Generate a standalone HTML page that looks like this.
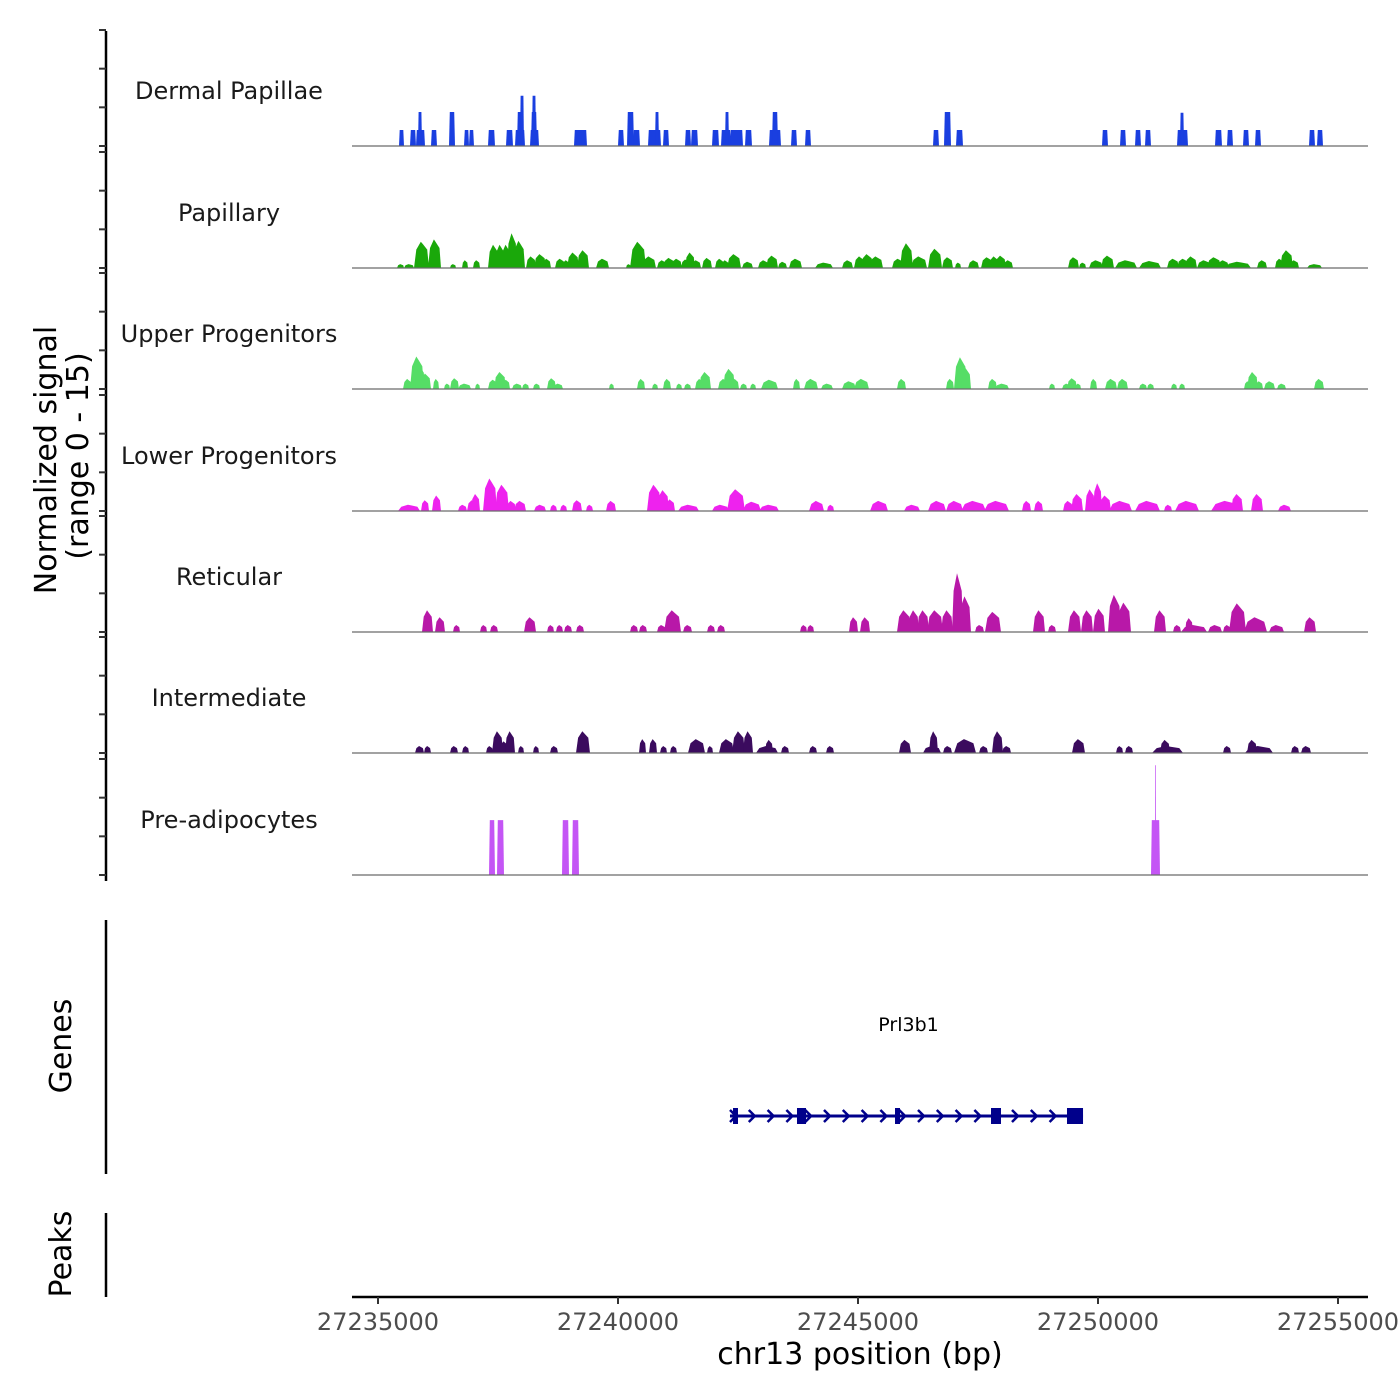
<!DOCTYPE html>
<html><head><meta charset="utf-8"><title>Coverage plot</title>
<style>
html,body{margin:0;padding:0;background:#fff;}
svg{display:block;font-family:"DejaVu Sans","Liberation Sans",sans-serif;}
</style></head>
<body>
<svg id="chart" width="1400" height="1400" viewBox="0 0 1400 1400" xmlns="http://www.w3.org/2000/svg">
<rect width="1400" height="1400" fill="#fff"/>
<g id="tracks"></g>
<g id="left-axis"></g>
<text transform="translate(56,460) rotate(-90)" text-anchor="middle" font-size="30" fill="#000">Normalized signal</text>
<text transform="translate(88,456) rotate(-90)" text-anchor="middle" font-size="30" fill="#000">(range 0 - 15)</text>
<line x1="106" y1="920" x2="106" y2="1174" stroke="#000" stroke-width="2.5"/>
<text transform="translate(71,1046) rotate(-90)" text-anchor="middle" font-size="30" fill="#000">Genes</text>
<line x1="106" y1="1213" x2="106" y2="1297" stroke="#000" stroke-width="2.5"/>
<text transform="translate(71,1254) rotate(-90)" text-anchor="middle" font-size="30" fill="#000">Peaks</text>
<g id="genes"></g>
<g id="xaxis"></g>
<text x="860" y="1364" text-anchor="middle" font-size="30" fill="#000">chr13 position (bp)</text>
</svg>
<script>
const xTicks = [27235000, 27240000, 27245000, 27250000, 27255000];
const xTickLabels = ["27235000", "27240000", "27245000", "27250000", "27255000"];
const trackNames = ["Dermal Papillae","Papillary","Upper Progenitors","Lower Progenitors","Reticular","Intermediate","Pre-adipocytes"];
const trackColors = ["#1a3fe0","#1aa80a","#55dd66","#ee22ee","#b818a8","#3b0b5e","#c455f5"];
const yTickValues = [0,5,10,15];

const dermalPeaks = [[27235458,27235521,2.07],[27235688,27235771,2.07],[27235813,27235958,2.07],[27235854,27235896,4.4],[27236125,27236208,2.07],[27236500,27236583,4.4],[27236813,27236875,2.07],[27236917,27236979,2.07],[27237313,27237417,2.07],[27237688,27237792,2.07],[27237875,27238042,2.07],[27237917,27237979,4.4],[27237979,27238021,6.5],[27238188,27238333,2.07],[27238208,27238292,4.4],[27238229,27238271,6.5],[27239104,27239333,2.07],[27240021,27240104,2.07],[27240208,27240313,4.4],[27240333,27240438,2.07],[27240646,27240875,2.07],[27240792,27240833,4.4],[27240958,27241042,2.07],[27241417,27241500,2.07],[27241542,27241646,2.07],[27241979,27242083,2.07],[27242167,27242333,2.07],[27242250,27242292,4.4],[27242354,27242583,2.07],[27242667,27242771,2.07],[27243167,27243375,2.07],[27243229,27243313,4.4],[27243625,27243708,2.07],[27243917,27244000,2.07],[27246583,27246667,2.07],[27246813,27246917,4.4],[27247063,27247167,2.07],[27250104,27250188,2.07],[27250479,27250563,2.07],[27250792,27250875,2.07],[27251000,27251083,2.07],[27251667,27251854,2.07],[27251729,27251771,4.3],[27252458,27252563,2.07],[27252708,27252792,2.07],[27253042,27253125,2.07],[27253292,27253375,2.07],[27254417,27254500,2.07],[27254583,27254667,2.07]];
const papillaryPeaks = [[27235417,27235521,0.5],[27235563,27235729,0.5],[27235771,27236042,3.4],[27236063,27236292,3.7],[27236521,27236604,0.5],[27236771,27236854,1],[27237000,27237104,1],[27237313,27237500,3],[27237458,27237625,3],[27237583,27237750,3],[27237708,27237875,4.5],[27237833,27238042,3.5],[27238104,27238271,1.5],[27238271,27238479,1.8],[27238438,27238583,1.2],[27238708,27238875,1.2],[27238854,27238979,1],[27238958,27239167,2],[27239167,27239375,2.3],[27239563,27239792,1.2],[27240188,27240250,0.5],[27240271,27240563,3.4],[27240521,27240771,1.5],[27240833,27241000,1],[27240958,27241167,1.3],[27241125,27241313,1.2],[27241333,27241479,1.1],[27241417,27241583,2],[27241542,27241708,1],[27241771,27241938,1.3],[27242042,27242188,1.2],[27242167,27242292,1],[27242292,27242542,1.8],[27242604,27242792,0.8],[27242938,27243125,1],[27243104,27243313,1.6],[27243354,27243500,0.8],[27243583,27243813,1.2],[27244125,27244458,0.7],[27244688,27244875,1],[27244938,27245125,1.5],[27245083,27245292,1.8],[27245250,27245500,1.5],[27245729,27245938,1.2],[27245896,27246125,3.2],[27246125,27246417,1.5],[27246479,27246729,2.5],[27246771,27246958,1.4],[27247042,27247125,0.7],[27247313,27247500,1],[27247583,27247792,1.4],[27247750,27247917,1.5],[27247875,27248063,1.6],[27248042,27248208,1],[27249396,27249583,1.4],[27249625,27249729,0.7],[27249833,27250083,1],[27250083,27250313,1.6],[27250375,27250792,1],[27250875,27251292,0.9],[27251458,27251667,1.2],[27251667,27251875,1.2],[27251833,27252042,1.5],[27252083,27252333,1],[27252292,27252542,1.4],[27252500,27252708,1],[27252667,27253167,0.8],[27253333,27253500,1],[27253708,27253854,1.2],[27253813,27254042,2.3],[27254000,27254167,1],[27254375,27254646,0.5]];
const upperPeaks = [[27235542,27235688,1.3],[27235688,27235938,4.2],[27235792,27235958,3],[27235896,27236083,2],[27236167,27236250,1.3],[27236396,27236479,0.7],[27236521,27236667,1.4],[27236688,27236917,0.7],[27237042,27237104,0.7],[27237313,27237479,1.2],[27237438,27237646,2.2],[27237604,27237729,1.2],[27237813,27237979,0.7],[27238021,27238125,0.7],[27238250,27238354,0.7],[27238542,27238688,1.4],[27238667,27238833,0.7],[27239833,27239896,0.7],[27240417,27240542,1.3],[27240729,27240813,0.7],[27240958,27241083,1.3],[27241229,27241313,0.7],[27241396,27241500,0.7],[27241625,27241771,1.3],[27241708,27241917,2.2],[27242104,27242292,1.3],[27242208,27242417,2.6],[27242375,27242500,1.3],[27242563,27242667,0.7],[27242771,27242854,0.7],[27243000,27243313,1.2],[27243667,27243771,1.3],[27243896,27244146,1.3],[27244250,27244458,0.7],[27244688,27244938,1],[27244938,27245208,1.3],[27245833,27245979,1.3],[27246854,27246979,1.3],[27247021,27247250,4.1],[27247167,27247333,2.7],[27247729,27247875,1.3],[27247875,27248125,0.7],[27249000,27249083,0.7],[27249271,27249417,0.7],[27249375,27249542,1.4],[27249542,27249625,0.7],[27249854,27249958,1.3],[27250167,27250375,1.3],[27250417,27250604,1.3],[27250875,27251000,0.7],[27251042,27251146,0.7],[27251542,27251625,0.7],[27251708,27251792,0.7],[27253063,27253167,1],[27253125,27253313,2.2],[27253292,27253417,1],[27253479,27253667,1],[27253750,27253896,0.7],[27254521,27254688,1.3]];
const lowerPeaks = [[27235438,27235854,0.8],[27235917,27236042,1.4],[27236146,27236292,2],[27236688,27236833,0.8],[27236875,27237042,1.4],[27236958,27237104,2.2],[27237208,27237458,4.2],[27237458,27237708,3.4],[27237688,27237854,1.3],[27237854,27238063,1.3],[27238271,27238479,0.8],[27238604,27238708,0.8],[27238813,27238917,0.8],[27239063,27239229,1.4],[27239354,27239458,0.8],[27239771,27239938,1.3],[27240625,27240875,3.4],[27240833,27241042,2.7],[27241000,27241167,1.5],[27241271,27241667,0.8],[27241979,27242292,0.8],[27242292,27242625,2.8],[27242625,27242958,1.2],[27242958,27243333,0.8],[27244000,27244271,1.3],[27244375,27244479,0.8],[27245271,27245604,1.3],[27245979,27246271,0.8],[27246479,27246813,1.3],[27246854,27247167,1.3],[27247167,27247646,1.3],[27247646,27248125,1.3],[27248438,27248583,1.3],[27248688,27248833,1.3],[27249292,27249458,1.3],[27249458,27249667,2.2],[27249750,27249917,2.8],[27249917,27250063,3.6],[27250042,27250250,2],[27250250,27250688,1.3],[27250792,27251271,1.3],[27251396,27251521,0.8],[27251625,27252083,1.3],[27252375,27252958,1.3],[27252792,27253000,2.2],[27253208,27253417,2.2],[27253771,27254000,0.8]];
const reticularPeaks = [[27235938,27236125,2.8],[27236208,27236375,1.9],[27236583,27236688,0.9],[27237146,27237250,0.9],[27237354,27237479,0.9],[27238063,27238271,1.9],[27238542,27238646,0.9],[27238729,27238833,0.9],[27238896,27239021,0.9],[27239146,27239271,0.9],[27240271,27240396,0.9],[27240458,27240583,0.9],[27240833,27240979,0.9],[27240979,27241292,2.8],[27241375,27241521,0.9],[27241875,27242000,0.9],[27242083,27242208,0.9],[27243813,27243917,0.9],[27243958,27244063,0.9],[27244833,27244979,1.9],[27245063,27245229,1.9],[27245833,27246083,2.8],[27246063,27246250,2.8],[27246250,27246458,2.8],[27246458,27246750,2.8],[27246750,27246958,2.8],[27246979,27247167,7.6],[27247125,27247333,4.6],[27247458,27247604,0.9],[27247667,27247958,2.6],[27248667,27248875,2.8],[27248979,27249104,0.9],[27249396,27249625,2.8],[27249667,27249875,2.8],[27249917,27250125,3],[27250229,27250458,4.8],[27250417,27250667,3.8],[27251188,27251396,2.8],[27251583,27251708,0.9],[27251750,27252250,0.9],[27251833,27251958,1.8],[27252313,27252563,0.9],[27252625,27252750,0.9],[27252750,27253063,3.7],[27253063,27253500,1.9],[27253583,27253854,0.9],[27254313,27254521,1.9]];
const intermediatePeaks = [[27235792,27235938,0.9],[27235979,27236083,0.9],[27236521,27236646,0.9],[27236771,27236875,0.9],[27237271,27237375,0.9],[27237396,27237583,2.8],[27237542,27237708,1.5],[27237667,27237833,2.8],[27237938,27238021,0.9],[27238250,27238333,0.9],[27238604,27238729,0.9],[27239146,27239396,2.8],[27240458,27240563,1.8],[27240667,27240792,1.8],[27240896,27241000,0.9],[27241104,27241208,0.9],[27241479,27241792,1.8],[27241875,27241958,0.9],[27242125,27242396,1.8],[27242396,27242625,2.8],[27242625,27242792,2.8],[27242896,27243313,0.9],[27243083,27243208,1.7],[27243417,27243542,0.9],[27244000,27244125,0.9],[27244354,27244479,0.9],[27245875,27246083,1.7],[27246375,27246708,0.9],[27246500,27246646,2.8],[27246792,27246938,0.9],[27247021,27247438,1.8],[27247542,27247688,0.9],[27247813,27248000,2.8],[27248021,27248167,0.9],[27249479,27249708,1.8],[27250396,27250500,0.9],[27250583,27250708,0.9],[27251146,27251750,0.9],[27251313,27251479,1.7],[27252625,27252750,0.9],[27253083,27253625,0.9],[27253125,27253292,1.7],[27254042,27254167,0.9],[27254250,27254417,0.9]];
const preadipocytePeaks = [[27237333,27237417,7.1],[27237500,27237604,7.1],[27238854,27238958,7.1],[27239063,27239167,7.1],[27251125,27251271,7.1],[27251188,27251208,14.2]];
const trackPeaks = [dermalPeaks, papillaryPeaks, upperPeaks, lowerPeaks, reticularPeaks, intermediatePeaks, preadipocytePeaks];

const geneName = "Prl3b1";
const geneStart = 27242333;
const geneEnd = 27249688;
const exonStarts = [27242396, 27243729, 27245771, 27247771, 27249354];
const exonEnds = [27242500, 27243917, 27245875, 27247979, 27249688];

const NS = "http://www.w3.org/2000/svg";
const X0 = 378, PXPERBP = 960/20000, START = 27235000;
const xScale = bp => X0 + (bp - START) * PXPERBP;
const baselines = [146, 268, 389, 511, 632, 753, 875];
const PANEL_H = 116;
const yScale = (v, i) => baselines[i] - v * PANEL_H / 15;
const smooth = [false, true, true, true, true, true, false];

function mk(tag, attrs, parent) {
  const e = document.createElementNS(NS, tag);
  for (const k in attrs) e.setAttribute(k, attrs[k]);
  parent.appendChild(e);
  return e;
}

const tracksG = document.getElementById('tracks');
trackPeaks.forEach((peaks, i) => {
  const g = mk('g', {}, tracksG);
  
  
  const lab = mk('text', {x: 229, y: baselines[i] - 47, 'text-anchor': 'middle', 'font-size': 24, fill: '#1a1a1a'}, g);
  lab.textContent = trackNames[i];
  
  
  peaks.forEach(p => {
    const thin = p[1] - p[0] < 40;
    const pad = thin ? 0 : 1;
    const x1 = xScale(p[0]) - pad, x2 = Math.max(xScale(p[1]) + pad, x1 + 1);
    const y0 = baselines[i], yt = yScale(p[2], i);
    const w = x2 - x1;
    let pts;
    if (smooth[i]) {
      const ym = y0 - (y0 - yt) * 0.7;
      pts = [[x1, y0], [x1 + w * 0.15, ym], [x1 + w * 0.45, yt], [x1 + w * 0.6, yt + (y0 - yt) * 0.1], [x2 - w * 0.12, ym], [x2, y0]];
    } else {
      const s = Math.min(0.8, w * 0.15);
      pts = [[x1, y0], [x1 + s, yt], [x2 - s, yt], [x2, y0]];
    }
    const poly = mk('polygon', {points: pts.map(q => q[0].toFixed(1) + ',' + q[1].toFixed(1)).join(' '), fill: trackColors[i]}, g);
    
    
  });
  const bl = mk('line', {x1: 352, x2: 1368, y1: baselines[i], y2: baselines[i], stroke: '#6b6b6b', 'stroke-width': 1.2}, g);
  
  
});

const la = document.getElementById('left-axis');
const al = mk('line', {x1: 106, x2: 106, y1: 31, y2: 881, stroke: '#000', 'stroke-width': 2.5}, la);


baselines.forEach((b, i) => {
  yTickValues.forEach(v => {
    const y = yScale(v, i);
    const t = mk('line', {x1: 99, x2: 106, y1: y, y2: y, stroke: '#333', 'stroke-width': 2}, la);
    
    
  });
});

const gg = document.getElementById('genes');
const gy = 1116;
const gl = mk('line', {x1: xScale(geneStart), x2: xScale(geneEnd), y1: gy, y2: gy, stroke: '#00008b', 'stroke-width': 3}, gg);


for (let x = xScale(geneStart) + 4; x < xScale(geneEnd) - 4; x += 18.8) {
  const a = mk('polyline', {points: `${x-4},${gy-6} ${x+2},${gy} ${x-4},${gy+6}`, fill: 'none', stroke: '#00008b', 'stroke-width': 2.5}, gg);
  
  
}
exonStarts.forEach((s, k) => {
  const x1 = xScale(s), x2 = xScale(exonEnds[k]);
  const r = mk('rect', {x: x1, y: gy - 8, width: Math.max(x2 - x1, 4), height: 16, fill: '#00008b'}, gg);
  
  
});
const gt = mk('text', {x: (xScale(geneStart) + xScale(geneEnd)) / 2 + 2, y: 1031, 'text-anchor': 'middle', 'font-size': 19, fill: '#000'}, gg);
gt.textContent = geneName;



const xa = document.getElementById('xaxis');
const xl = mk('line', {x1: 352, x2: 1368, y1: 1297, y2: 1297, stroke: '#000', 'stroke-width': 2.5}, xa);


xTicks.forEach((v, k) => {
  const x = xScale(v);
  const t = mk('line', {x1: x, x2: x, y1: 1297, y2: 1304, stroke: '#333', 'stroke-width': 2}, xa);
  
  
  const tl = mk('text', {x: x, y: 1330, 'text-anchor': 'middle', 'font-size': 24, fill: '#4d4d4d'}, xa);
  tl.textContent = xTickLabels[k];
  
  
});
</script>
</body></html>
